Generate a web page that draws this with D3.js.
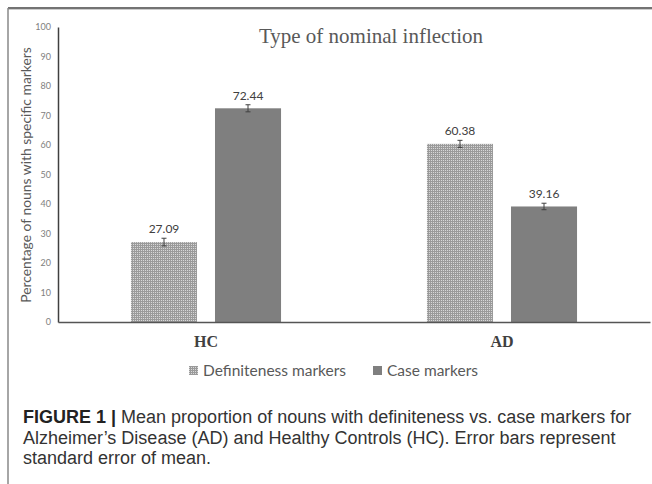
<!DOCTYPE html>
<html>
<head>
<meta charset="utf-8">
<script src="https://cdn.jsdelivr.net/npm/d3@7"></script>
<style>
  body { margin: 0; background: #fff; }
  svg { display: block; }
</style>
</head>
<body>
<div id="chart"></div>
<script>
// chart values
const groups = ["HC", "AD"];
const seriesNames = ["Definiteness markers", "Case markers"];
const definiteness = [27.09, 60.38];
const caseMarkers = [72.44, 39.16];
const definitenessSE = [1.3, 1.2];
const caseSE = [1.2, 1.1];
const yTicks = [0, 10, 20, 30, 40, 50, 60, 70, 80, 90, 100];
const captionLines = [
  ["FIGURE 1 |", " Mean proportion of nouns with definiteness vs. case markers for"],
  ["", "Alzheimer\u2019s Disease (AD) and Healthy Controls (HC). Error bars represent"],
  ["", "standard error of mean."]
];

const W = 652, H = 484;
const PLOT = {left: 58, right: 650, top: 27, bottom: 322};
const SANS = "Lato, 'Open Sans', sans-serif";

const svg = d3.select("#chart").append("svg").attr("width", W).attr("height", H);

// fine dotted pattern for the definiteness bars
const defs = svg.append("defs");
const pat = defs.append("pattern").attr("id", "dither")
  .attr("width", 2).attr("height", 2).attr("patternUnits", "userSpaceOnUse");
pat.append("rect").attr("width", 2).attr("height", 2).attr("fill", "#9a9a9a");
pat.append("rect").attr("width", 1).attr("height", 1).attr("fill", "#d9d9d9");

// frame lines (top and left)
svg.append("line").attr("x1", 8).attr("x2", W).attr("y1", 8).attr("y2", 8)
  .attr("stroke", "#444").attr("stroke-width", 1.5);
svg.append("line").attr("x1", 8).attr("x2", W).attr("y1", 9.5).attr("y2", 9.5)
  .attr("stroke", "#ccc").attr("stroke-width", 1);
svg.append("line").attr("x1", 8).attr("x2", 8).attr("y1", 8).attr("y2", H)
  .attr("stroke", "#888").attr("stroke-width", 1.5);

// data table built from the arrays
const data = groups.map((g, i) => ({
  group: g,
  values: [
    {key: seriesNames[0], value: definiteness[i], se: definitenessSE[i]},
    {key: seriesNames[1], value: caseMarkers[i], se: caseSE[i]}
  ]
}));

const x0 = d3.scaleBand().domain(groups).range([PLOT.left, PLOT.right])
  .paddingInner(0.493).paddingOuter(0.2465);
const x1 = d3.scaleBand().domain(seriesNames).range([0, x0.bandwidth()]).paddingInner(0.214);
const y = d3.scaleLinear().domain([0, 100]).range([PLOT.bottom, PLOT.top]);
const fills = [ "url(#dither)", "#7f7f7f" ];

// y axis
const yAxis = svg.append("g").attr("transform", `translate(${PLOT.left},0)`)
  .call(d3.axisLeft(y).tickValues(yTicks).tickSize(0).tickPadding(7));
yAxis.select(".domain").attr("stroke", "#404040").attr("stroke-width", 1.5);
yAxis.selectAll("text").attr("fill", "#808080").style("font-family", SANS).style("font-size", "9px");

// bars
const g = svg.selectAll("g.grp").data(data).enter().append("g")
  .attr("class", "grp")
  .attr("transform", d => `translate(${x0(d.group)},0)`);

g.selectAll("rect").data(d => d.values).enter().append("rect")
  .attr("x", d => x1(d.key))
  .attr("y", d => y(d.value))
  .attr("width", x1.bandwidth())
  .attr("height", d => y(0) - y(d.value))
  .attr("fill", (d, i) => fills[i]);

// error bars
const eb = g.selectAll("g.err").data(d => d.values).enter().append("g").attr("class", "err")
  .attr("stroke", "#404040").attr("stroke-width", 1);
eb.append("line")
  .attr("x1", d => x1(d.key) + x1.bandwidth() / 2).attr("x2", d => x1(d.key) + x1.bandwidth() / 2)
  .attr("y1", d => y(d.value + d.se)).attr("y2", d => y(d.value - d.se));
eb.append("line")
  .attr("x1", d => x1(d.key) + x1.bandwidth() / 2 - 2.5).attr("x2", d => x1(d.key) + x1.bandwidth() / 2 + 2.5)
  .attr("y1", d => y(d.value + d.se)).attr("y2", d => y(d.value + d.se));
eb.append("line")
  .attr("x1", d => x1(d.key) + x1.bandwidth() / 2 - 2.5).attr("x2", d => x1(d.key) + x1.bandwidth() / 2 + 2.5)
  .attr("y1", d => y(d.value - d.se)).attr("y2", d => y(d.value - d.se));

// value labels
g.selectAll("text.val").data(d => d.values).enter().append("text")
  .attr("class", "val")
  .attr("x", d => x1(d.key) + x1.bandwidth() / 2)
  .attr("y", d => y(d.value + d.se) - 5)
  .attr("text-anchor", "middle")
  .attr("fill", "#404040")
  .style("font-family", SANS).style("font-size", "12px")
  .text(d => d.value.toFixed(2));

// x axis baseline and category labels
const xAxis = svg.append("g").attr("transform", `translate(0,${PLOT.bottom})`)
  .call(d3.axisBottom(x0).tickSize(0).tickPadding(14));
xAxis.select(".domain").attr("stroke", "#555").attr("stroke-width", 1.5);
xAxis.selectAll("text").attr("fill", "#404040")
  .style("font-family", "'Liberation Serif', serif").style("font-size", "16px").style("font-weight", "bold");

// title
svg.append("text").attr("x", 371).attr("y", 43).attr("text-anchor", "middle")
  .attr("fill", "#595959").style("font-family", "'Liberation Serif', serif").style("font-size", "21px")
  .text("Type of nominal inflection");

// y axis title, sized to span about 256px
const yTitle = svg.append("text").attr("transform", `translate(31,175) rotate(-90)`)
  .attr("text-anchor", "middle").attr("fill", "#595959")
  .style("font-family", SANS).style("font-size", "12.5px")
  .text("Percentage of nouns with specific markers");
const yLen = yTitle.node().getComputedTextLength();
if (yLen > 0) yTitle.style("font-size", (12.5 * 256 / yLen).toFixed(2) + "px");

// legend
const legendX = [189, 373];
const leg = svg.selectAll("g.leg").data(seriesNames).enter().append("g").attr("class", "leg")
  .attr("transform", (d, i) => `translate(${legendX[i]},371)`);
leg.append("rect").attr("x", 0).attr("y", -5).attr("width", 9).attr("height", 9)
  .attr("fill", (d, i) => fills[i]);
leg.append("text").attr("x", 14).attr("y", 5).attr("fill", "#595959")
  .style("font-family", SANS).style("font-size", "15.5px").text(d => d);

// caption
const cap = svg.append("g").style("font-family", "'Liberation Sans', Arial, sans-serif")
  .style("font-size", "18px").attr("fill", "#333");
captionLines.forEach((ln, i) => {
  const t = cap.append("text").attr("x", 23).attr("y", 423 + i * 20.5);
  if (ln[0]) t.append("tspan").style("font-weight", "bold").attr("fill", "#222").text(ln[0]);
  t.append("tspan").text(ln[1]);
});
</script>
</body>
</html>
